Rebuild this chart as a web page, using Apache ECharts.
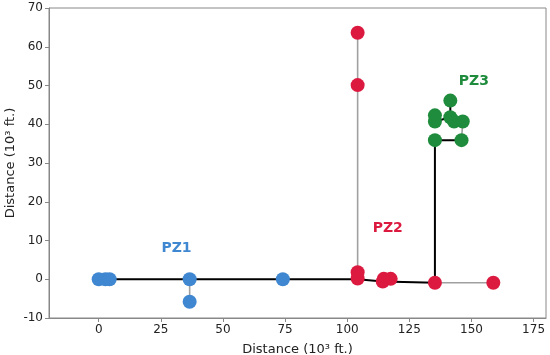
<!DOCTYPE html>
<html><head><meta charset="utf-8">
<script src="https://cdn.jsdelivr.net/npm/echarts@6/dist/echarts.min.js"></script>
<style>html,body{margin:0;padding:0;background:#fff}#c{width:550px;height:355px}</style>
</head><body><div id="c"></div>
<script>
// Data (10^3 ft.)
const pz1X = [0, 2.7, 4.4, 36.6, 36.6, 74.1];
const pz1Y = [0, 0, 0, 0, -5.8, 0];
const pz2X = [104.2, 104.2, 104.2, 104.2, 114.3, 114.7, 117.5, 135.3, 158.8];
const pz2Y = [63.6, 50.1, 1.8, 0.2, -0.6, 0.1, 0.1, -0.9, -0.9];
const pz3X = [141.5, 135.3, 135.3, 141.5, 143.0, 146.5, 135.3, 146.0];
const pz3Y = [46.1, 42.3, 40.7, 41.8, 40.7, 40.7, 35.9, 35.9];
const trunkX = [0, 104.2, 114.3, 135.3, 135.3, 146.0];
const trunkY = [0, 0, -0.6, -0.9, 35.9, 35.9];
const branchA = [[135.3, 40.7], [141.5, 41.8]];
const branchB = [[141.5, 46.1], [141.5, 41.8]];
const grayLines = [
  [[104.2, 63.6], [104.2, 0.2]],
  [[135.3, -0.9], [158.8, -0.9]],
  [[36.6, 0], [36.6, -5.8]],
  [[146.0, 35.9], [146.5, 40.7]]
];
const zoneNames = ['PZ1', 'PZ2', 'PZ3'];
const zoneLabelX = [31.3, 116.3, 151];
const zoneLabelY = [8, 13.2, 51];
const xTicks = [0, 25, 50, 75, 100, 125, 150, 175];

const blue = '#3f87d0', red = '#dc1a40', green = '#1e8c3c';
const zoneColors = [blue, red, green];
const zip = (a, b) => a.map((v, i) => [v, b[i]]);

const series = [];
grayLines.forEach(seg => series.push({
  type: 'line', data: seg, symbol: 'none', silent: true,
  lineStyle: { color: '#a0a0a0', width: 1.6 }, z: 1
}));
[zip(trunkX, trunkY), branchA, branchB].forEach(seg => series.push({
  type: 'line', data: seg, symbol: 'none', silent: true,
  lineStyle: { color: '#000', width: 2 }, z: 2
}));
[[pz1X, pz1Y], [pz2X, pz2Y], [pz3X, pz3Y]].forEach((p, i) => series.push({
  type: 'scatter', data: zip(p[0], p[1]), symbolSize: 14,
  itemStyle: { color: zoneColors[i], opacity: 1 }, z: 3
}));
series.push({
  type: 'scatter', symbolSize: 1, z: 4, itemStyle: { opacity: 1, color: 'rgba(0,0,0,0)' },
  data: zoneNames.map((n, i) => ({
    value: [zoneLabelX[i], zoneLabelY[i]], name: n,
    label: { show: true, position: 'inside', formatter: n, color: zoneColors[i],
      fontSize: 14, fontWeight: 'bold', fontFamily: 'DejaVu Sans', textBorderWidth: 0, opacity: 1 }
  }))
});

const axisCol = '#888';
const chart = echarts.init(document.getElementById('c'), null, { renderer: 'canvas' });
chart.setOption({
  animation: false,
  textStyle: { fontFamily: 'DejaVu Sans' },
  grid: { left: 49, right: 4, top: 8, bottom: 37, containLabel: false, outerBoundsMode: 'none',
    show: true, borderColor: axisCol, borderWidth: 1 },
  xAxis: {
    type: 'value', min: -20, max: 180,
    name: 'Distance (10³ ft.)', nameLocation: 'middle', nameGap: 25, nameMoveOverlap: false,
    nameTextStyle: { fontSize: 13, color: '#222', fontFamily: 'DejaVu Sans' },
    axisLine: { show: true, onZero: false, lineStyle: { color: axisCol } },
    axisTick: { show: true, inside: false, customValues: xTicks, length: 4, lineStyle: { color: axisCol } },
    axisLabel: { customValues: xTicks, fontSize: 12, color: '#222', margin: 6 },
    splitLine: { show: false }
  },
  yAxis: {
    type: 'value', min: -10, max: 70, interval: 10,
    name: 'Distance (10³ ft.)', nameLocation: 'middle', nameGap: 32, nameMoveOverlap: false,
    nameTextStyle: { fontSize: 13, color: '#222', fontFamily: 'DejaVu Sans' },
    axisLine: { show: true, onZero: false, lineStyle: { color: axisCol } },
    axisTick: { show: true, inside: false, length: 4, lineStyle: { color: axisCol } },
    axisLabel: { fontSize: 12, color: '#222', margin: 6 },
    splitLine: { show: false }
  },
  series
});
</script></body></html>
